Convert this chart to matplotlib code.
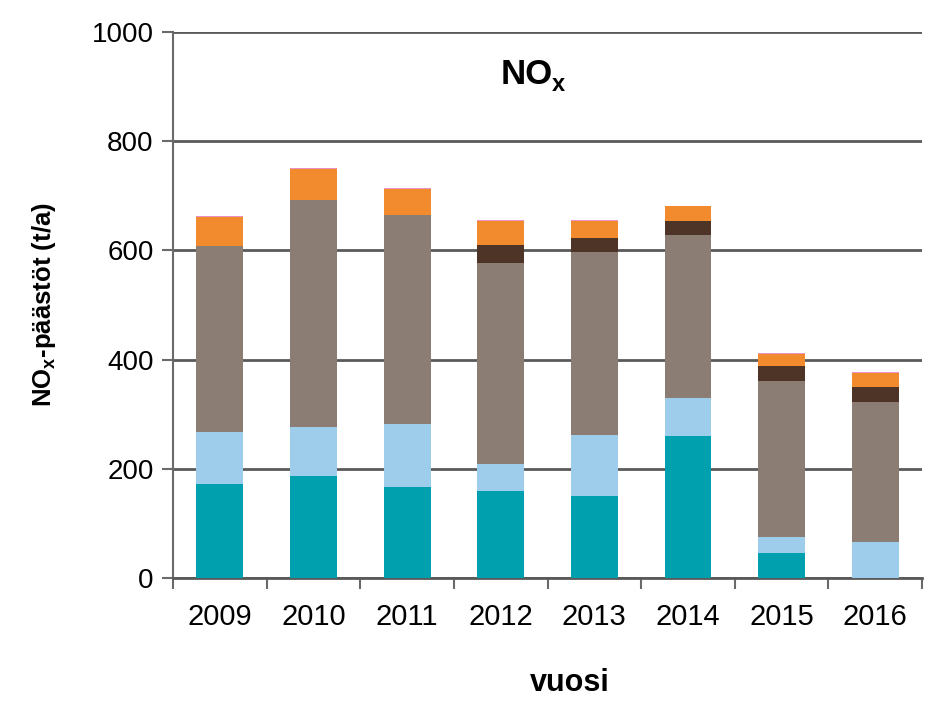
import numpy as np
import matplotlib.pyplot as plt

plt.rcParams['font.family'] = ['Liberation Sans', 'DejaVu Sans']
plt.rcParams['mathtext.fontset'] = 'custom'
plt.rcParams['mathtext.bf'] = 'Liberation Sans:bold'
plt.rcParams['mathtext.rm'] = 'Liberation Sans'

# DATA ############################################################

years = ["2009", "2010", "2011", "2012", "2013", "2014", "2015", "2016"]

# stacked layers, bottom to top (t/a)
teal = [172, 187, 167, 160, 150, 260, 46, 0]
light_blue = [95, 90, 115, 49, 112, 70, 29, 66]
grey = [341, 415, 383, 368, 335, 298, 286, 256]
dark_brown = [0, 0, 0, 33, 26, 26, 27, 28]
orange = [53, 57, 47, 44, 31, 27, 22, 25]
pink = [2, 2, 2, 2, 2, 1, 2, 3]

layers = [teal, light_blue, grey, dark_brown, orange, pink]
colors = ["#00A0AE", "#9DCDEB", "#8B7D73", "#4E3427", "#F28B2D", "#E893C3"]

# PLOT ############################################################

fig = plt.figure(figsize=(9.47, 7.11), dpi=100)
ax = fig.add_axes([0.1827, 0.187, 0.791, 0.768])

x = np.arange(len(years))
bottom = np.zeros(len(years))
for values, color in zip(layers, colors):
    ax.bar(x, values, width=0.5, bottom=bottom, color=color, zorder=3)
    bottom += np.array(values)

ax.set_xlim(-0.5, len(years) - 0.5)
ax.set_ylim(0, 1000)
ax.set_yticks(np.arange(0, 1001, 200))
ax.yaxis.grid(True, color="#5a5a5a", linewidth=2, zorder=0)

ax.set_xticks(x)
ax.set_xticklabels(years)
ax.set_xticks(np.arange(-0.5, len(years)), minor=True)
ax.tick_params(axis="x", which="major", length=0, pad=18, labelsize=21)
ax.tick_params(axis="x", which="minor", length=8, width=1.5, color="#6a6a6a")
ax.tick_params(axis="y", length=8, width=1.5, color="#6a6a6a", labelsize=20, pad=6)

for side in ["top", "right"]:
    ax.spines[side].set_visible(False)
ax.spines["left"].set_color("#6a6a6a")
ax.spines["left"].set_linewidth(1.5)
ax.spines["bottom"].set_color("#5a5a5a")
ax.spines["bottom"].set_linewidth(2)

# title inside the plot: NO with subscript x
ax.text(0.472, 0.923, "NO", transform=ax.transAxes,
        ha="center", va="center", fontsize=25, fontweight="bold")
ax.text(0.506, 0.903, "x", transform=ax.transAxes,
        ha="left", va="center", fontsize=17, fontweight="bold")

ax.set_ylabel(r"NO$_\mathregular{x}$-päästöt (t/a)", fontsize=18.5,
              fontweight="bold", labelpad=24)
ax.set_xlabel("vuosi", fontsize=22, fontweight="bold")
ax.xaxis.set_label_coords(0.53, -0.165)

fig.savefig("out.png", dpi=100)
